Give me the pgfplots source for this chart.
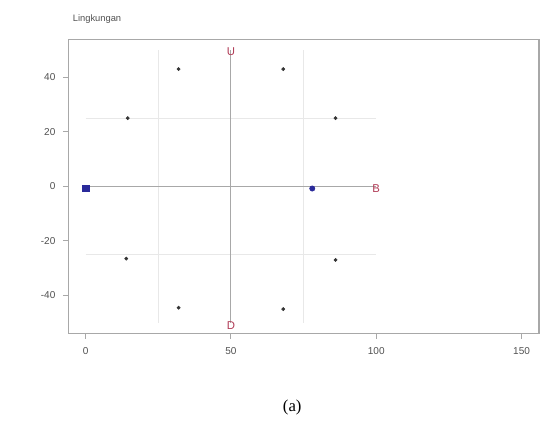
\documentclass[border=0pt]{standalone}
\usepackage{pgfplots}
\pgfplotsset{compat=1.18}
\usepackage{fontspec}
\setmainfont{Liberation Sans}
\newfontfamily\serifcap{Liberation Serif}
\definecolor{axgray}{HTML}{A8A8A8}
\definecolor{txtgray}{HTML}{505050}
\definecolor{ptblue}{HTML}{2A2A9A}
\definecolor{ltred}{HTML}{B03A55}
\begin{document}
\begin{tikzpicture}
\begin{axis}[
  scale only axis, width=352.5pt, height=220.5pt,
  xmin=-6, xmax=156, ymin=-54, ymax=54,
  clip=false,
  axis line style={axgray, line width=0.8pt},
  xtick={0,50,100,150}, ytick={-40,-20,0,20,40},
  tick align=outside, tick pos=left,
  major tick length=4pt,
  tick style={axgray, line width=0.6pt},
  ticklabel style={font=\fontsize{7.5}{9}\selectfont, text=txtgray},
  /pgf/number format/assume math mode=true,
  xticklabel style={yshift=-3pt},
  yticklabel style={xshift=-2pt},
]
% faint guide lines
\addplot[gray!18, line width=0.5pt] coordinates {(25,-50) (25,50)};
\addplot[gray!18, line width=0.5pt] coordinates {(75,-50) (75,50)};
\addplot[gray!18, line width=0.5pt] coordinates {(0,25) (100,25)};
\addplot[gray!18, line width=0.5pt] coordinates {(0,-25) (100,-25)};
% main lines
\addplot[axgray, line width=0.8pt] coordinates {(0,0) (100,0)};
\addplot[axgray, line width=0.8pt] coordinates {(50,-50) (50,50)};
% small black points
\addplot[only marks, mark=*, mark size=1.2pt, black!80] coordinates {
 (14.5,25) (32,43) (68,43) (86,25)
 (14,-26.5) (32,-44.5) (68,-45) (86,-27)};
% blue markers
\addplot[only marks, mark=square*, mark size=2.6pt, ptblue] coordinates {(0,-0.7)};
\addplot[only marks, mark=*, mark size=2pt, ptblue] coordinates {(78,-0.8)};
% letters
\addplot[only marks, mark=none, nodes near coords, point meta=explicit symbolic,
  every node near coord/.append style={anchor=center, text=ltred, font=\fontsize{8.5}{10}\selectfont}]
  coordinates {(50,49.5) [U] (50,-51) [D] (100,-0.8) [B]};
\node[anchor=west, font=\fontsize{7}{8}\selectfont, text=txtgray] at (rel axis cs:0,1.068) {Lingkungan};
\node[font=\serifcap\fontsize{12.5}{14}\selectfont] at (rel axis cs:0.476,-0.25) {(a)};
\path (rel axis cs:{-51/352.5},{-74.25/220.5}) rectangle (rel axis cs:{1+0.75/352.5},{1+29.25/220.5});
\end{axis}
\end{tikzpicture}
\end{document}
